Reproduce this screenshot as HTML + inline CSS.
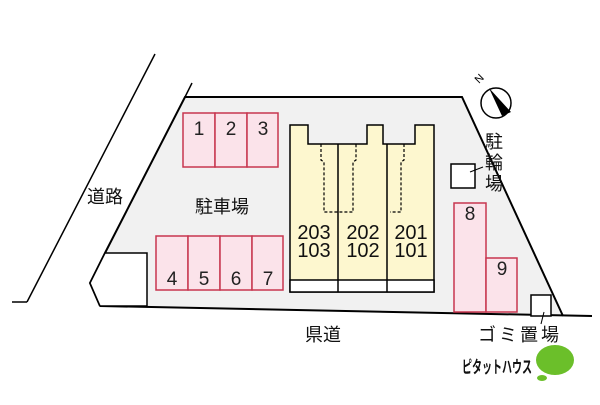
<!DOCTYPE html>
<html><head><meta charset="utf-8"><style>
body{margin:0;background:#fff;width:600px;height:400px;overflow:hidden}
svg text{font-family:"Liberation Sans","Noto Sans CJK JP",sans-serif}
</style></head><body>
<svg width="600" height="400" viewBox="0 0 600 400" xmlns="http://www.w3.org/2000/svg">
<polygon points="185,97 462,97 563,316 100,306 90,283 105,253" fill="#f1f1f1" stroke="none"/>
<polyline points="100,306 90,283 105,253 185,97 462,97 563,316" fill="none" stroke="#000" stroke-width="2"/>
<line x1="592" y1="316" x2="100" y2="306" stroke="#000" stroke-width="2"/>
<polygon points="105,253 147,253 147,306 100,306 90,283" fill="#fff" stroke="#000" stroke-width="1.5"/>
<line x1="155" y1="54" x2="27" y2="302" stroke="#000" stroke-width="1.5"/>
<line x1="12" y1="302" x2="27" y2="302" stroke="#000" stroke-width="1.5"/>
<line x1="192" y1="83" x2="185" y2="97" stroke="#000" stroke-width="1.5"/>
<g fill="#fbe3ea" stroke="#c8364f" stroke-width="1.5">
<rect x="183" y="113" width="32" height="54"/><rect x="215" y="113" width="32" height="54"/><rect x="247" y="113" width="31" height="54"/>
<rect x="156" y="236" width="32" height="54"/><rect x="188" y="236" width="32" height="54"/><rect x="220" y="236" width="32" height="54"/><rect x="252" y="236" width="31" height="54"/>
<rect x="454" y="203" width="32" height="109"/><rect x="486" y="258" width="31" height="54"/>
</g>
<g font-size="19" fill="#222" text-anchor="middle">
<text x="199" y="135">1</text><text x="231" y="135">2</text><text x="263" y="135">3</text>
<text x="172" y="285">4</text><text x="204" y="285">5</text><text x="236" y="285">6</text><text x="268" y="285">7</text>
<text x="470" y="220">8</text><text x="502" y="275">9</text>
</g>
<polygon points="290,125 308,125 308,144 367,144 367,125 383,125 383,144 415,144 415,125 434,125 434,292 290,292" fill="#fdf7cf" stroke="#000" stroke-width="1.5"/>
<rect x="290" y="280" width="144" height="12" fill="#fff" stroke="#000" stroke-width="1.5"/>
<line x1="338" y1="144" x2="338" y2="292" stroke="#000" stroke-width="1.5"/>
<line x1="387" y1="144" x2="387" y2="292" stroke="#000" stroke-width="1.5"/>
<g fill="none" stroke="#000" stroke-width="1.2" stroke-dasharray="3,2">
<polyline points="321,144 321,160 324,162 324,212 353,212 353,162 356,160 356,144"/>
<polyline points="404,144 404,160 401,162 401,212 390,212"/>
</g>
<g font-size="20" fill="#111" text-anchor="middle">
<text x="314" y="239">203</text><text x="314" y="257">103</text>
<text x="363" y="239">202</text><text x="363" y="257">102</text>
<text x="411" y="239">201</text><text x="411" y="257">101</text>
</g>
<rect x="451" y="164" width="24" height="24" fill="#fff" stroke="#000" stroke-width="1.5"/>
<line x1="470" y1="172" x2="483" y2="167" stroke="#000"/>
<rect x="531" y="295" width="20" height="21" fill="#fff" stroke="#000" stroke-width="1.5"/>
<line x1="544" y1="312" x2="541" y2="324" stroke="#000"/>
<circle cx="496" cy="103" r="15" fill="#fff" stroke="#000" stroke-width="1.5"/>
<polygon points="489,88 511,112 502,116" fill="#000"/>
<text x="479" y="84" font-size="11" transform="rotate(-45 479 84)">N</text>
<g font-size="18" fill="#111">
<text x="485" y="148">駐</text><text x="485" y="169">輪</text><text x="485" y="190">場</text>
<text x="87" y="203">道路</text>
<text x="195" y="213">駐車場</text>
<text x="305" y="341">県道</text>
<text x="478" y="341" letter-spacing="3">ゴミ置場</text>
</g>
<text x="462" y="373" font-size="17" font-weight="bold" fill="#111" textLength="70" lengthAdjust="spacingAndGlyphs">ピタットハウス</text>
<ellipse cx="555" cy="360" rx="19" ry="15" fill="#6bbf2a"/>
<ellipse cx="542" cy="378" rx="5" ry="3" fill="#6bbf2a"/>
</svg>
</body></html>
